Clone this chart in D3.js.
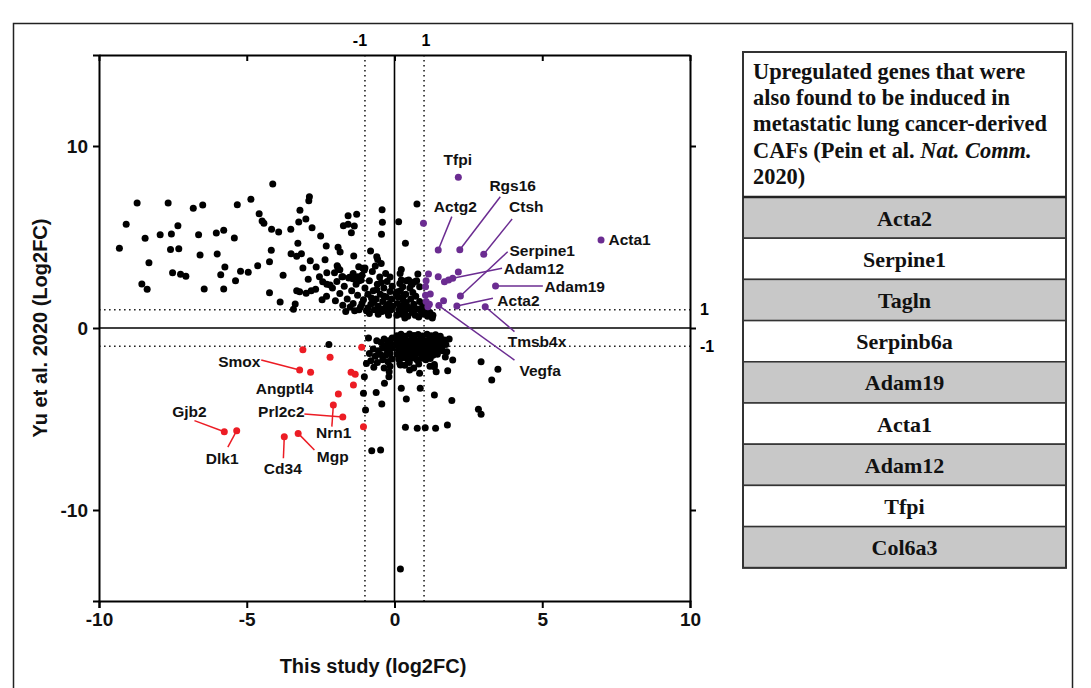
<!DOCTYPE html>
<html><head><meta charset="utf-8">
<script src="https://cdn.jsdelivr.net/npm/d3@7/dist/d3.min.js"></script>
<style>
html,body{margin:0;padding:0;background:#fff;}
svg text{font-family:"Liberation Sans",Arial,sans-serif;}
</style></head>
<body>
<svg id="chart" width="1091" height="688"></svg>
<script>
// ---------- DATA ----------
const xTicks = [-10, -5, 0, 5, 10];
const yTicks = [-10, 0, 10];
const thresholds = [-1, 1];
const xTitle = "This study (log2FC)";
const yTitle = "Yu et al. 2020 (Log2FC)";

// non-highlighted genes [log2FC this study, log2FC Yu et al.]
const blackGenes = [
 [-9.31,4.38],[-9.08,5.70],[-8.71,6.87],[-8.44,4.93],[-8.31,3.59],[-8.55,2.42],[-8.37,2.13],
 [-7.66,6.87],[-7.93,5.13],[-7.55,5.16],[-7.33,5.62],[-7.58,4.32],[-7.30,4.36],[-7.51,3.04],
 [-7.24,2.95],[-7.06,2.84],[-6.81,6.58],[-6.49,6.76],[-6.63,5.13],[-6.58,4.01],[-6.44,2.14],
 [-6.03,5.22],[-5.78,5.37],[-6.00,4.07],[-5.74,3.35],[-5.88,2.93],[-5.78,2.14],[-5.38,2.60],
 [-5.32,6.77],[-5.42,4.95],[-4.86,7.07],[-5.21,3.12],[-4.95,3.06],[-4.63,3.42],[-4.58,6.28],
 [-4.48,5.88],[-4.42,5.75],[-4.16,5.42],[-3.92,5.27],[-4.17,4.27],[-4.23,3.64],[-4.23,1.94],
 [-4.12,7.91],[-3.87,1.43],[-3.77,2.90],[-3.51,5.42],[-3.50,4.08],[-3.36,1.32],[-3.42,1.03],
 [-3.27,4.65],[-3.24,5.82],[-3.20,6.47],[-3.31,3.94],[-3.15,4.08],[-3.10,3.30],[-3.00,5.99],
 [-2.88,7.21],[-2.90,6.99],[-2.79,5.51],[-3.31,2.05],[-3.21,1.99],[-2.99,1.91],[-2.82,2.05],
 [-2.67,2.13],[-2.92,2.68],[-2.85,3.70],[-2.65,3.35],[-2.50,5.05],[-2.31,4.51],[-2.35,3.75],
 [-2.29,3.04],[-2.54,2.82],[-2.43,2.54],[-2.29,2.40],[-2.18,2.36],[-1.94,3.42],[-1.91,4.43],
 [-1.84,4.18],[-1.78,2.82],[-1.73,5.62],[-1.57,6.17],[-1.28,6.25],[-1.57,5.70],[-1.36,5.60],
 [-1.46,5.24],[-1.38,3.96],[-0.42,6.50],[-0.41,5.81],[-0.44,5.15],[-0.81,4.23],[-0.60,3.92],
 [-0.45,3.55],[-1.21,3.37],[-1.07,3.28],[-0.57,3.77],[-1.02,3.19],[-1.92,3.34],[-2.03,3.04],
 [-1.75,2.82],[-1.24,2.82],[-1.13,2.64],[-1.52,2.79],[-1.41,2.71],
 // dense cluster, upper left of zero
 [-2.10,2.20],[-1.95,2.55],[-1.85,1.90],[-1.70,2.30],[-1.60,1.60],[-1.55,2.75],[-1.45,2.05],
 [-1.40,1.35],[-1.30,2.40],[-1.25,1.80],[-1.15,1.15],[-1.10,2.90],[-1.05,1.55],[-1.00,2.20],
 [-0.95,0.95],[-0.90,1.85],[-0.85,2.60],[-0.80,1.30],[-0.75,3.10],[-0.72,2.05],[-0.68,1.00],
 [-0.62,1.60],[-0.58,2.40],[-0.55,1.20],[-0.50,2.80],[-0.48,1.85],[-0.42,0.90],[-0.40,1.45],
 [-0.36,2.20],[-0.32,1.10],[-0.28,1.70],[-0.25,2.55],[-0.22,0.85],[-0.18,1.35],[-0.15,2.00],
 [-0.12,1.00],[-0.10,1.60],[-0.08,2.30],[-0.06,1.20],[-0.90,1.10],[-1.20,1.00],[-1.35,0.95],
 [-1.75,1.25],[-2.00,1.50],[-2.30,1.75],[-2.45,1.55],[-1.65,0.90],[-0.65,3.40],[-1.00,3.30],
 [-0.30,3.00],[-0.55,0.75],[-0.85,0.80],[-0.20,0.70],[-1.50,1.15],[-0.70,1.40],[-1.20,2.60],
 [-0.45,2.50],[-1.40,3.00],[-1.85,3.20],[-0.15,2.80],[-0.60,2.10],[-0.35,1.75],[-0.78,1.65],
 [-1.10,1.35],[-0.25,1.25],[-0.50,1.05],
 // dense cluster, upper right of zero
 [0.08,0.70],[0.15,1.00],[0.10,1.35],[0.12,1.70],[0.20,2.05],[0.25,0.75],[0.30,1.20],[0.28,1.55],
 [0.35,0.90],[0.40,1.40],[0.38,1.85],[0.45,0.65],[0.50,1.05],[0.55,1.60],[0.52,2.20],[0.60,0.85],
 [0.65,1.30],[0.70,0.70],[0.72,1.75],[0.78,1.05],[0.82,0.60],[0.85,1.45],[0.90,0.90],[0.95,1.20],
 [1.00,0.75],[1.05,1.00],[1.12,0.65],[1.20,0.85],[1.30,0.70],[0.18,2.45],[0.40,2.60],[0.60,2.40],
 [0.75,2.60],[0.23,3.22],[0.19,3.00],[0.79,2.97],[0.48,2.64],[0.56,2.46],[0.68,2.54],[0.85,2.27],
 [0.23,2.64],[0.28,2.27],[0.11,1.99],[0.76,6.81],[0.14,5.84],[0.37,4.65],[1.28,0.55],[0.05,1.90],
 [0.35,0.55],[0.62,1.95],[0.20,1.20],[0.45,1.15],[0.68,1.05],[0.30,1.75],
 // dense cluster, lower right of zero
 [0.08,-0.42],[0.22,-0.35],[0.37,-0.45],[0.51,-0.33],[0.66,-0.41],[0.80,-0.36],[0.95,-0.44],
 [1.10,-0.34],[1.24,-0.42],[1.39,-0.37],[1.55,-0.45],[0.12,-0.68],[0.27,-0.62],[0.43,-0.71],
 [0.58,-0.60],[0.72,-0.69],[0.88,-0.63],[1.03,-0.72],[1.18,-0.61],[1.33,-0.70],[1.48,-0.64],
 [1.63,-0.74],[0.09,-0.93],[0.24,-0.88],[0.39,-0.97],[0.54,-0.86],[0.69,-0.95],[0.84,-0.89],
 [0.99,-0.98],[1.14,-0.87],[1.29,-0.96],[1.44,-0.90],[1.60,-1.00],[1.74,-0.90],[0.13,-1.20],
 [0.28,-1.13],[0.42,-1.22],[0.57,-1.12],[0.73,-1.21],[0.87,-1.14],[1.02,-1.23],[1.17,-1.12],
 [1.32,-1.20],[1.47,-1.15],[1.62,-1.25],[0.10,-1.45],[0.25,-1.38],[0.40,-1.48],[0.55,-1.40],
 [0.70,-1.47],[0.85,-1.39],[1.00,-1.49],[1.15,-1.41],[1.30,-1.50],[1.45,-1.44],[0.14,-1.70],
 [0.29,-1.63],[0.45,-1.72],[0.60,-1.65],[0.76,-1.74],[0.91,-1.66],[1.06,-1.75],[1.21,-1.68],
 [0.18,-1.95],[0.35,-2.05],[0.50,-1.90],[0.82,-1.98],[1.20,-2.10],[1.35,-2.00],[0.65,-2.20],
 [1.72,-1.60],[1.85,-0.60],[1.80,-2.35],[1.69,-0.66],[1.77,-1.30],[1.97,-1.76],[1.41,-2.40],
 [0.85,-2.49],[0.51,-2.31],[0.20,-2.03],[1.35,-2.13],
 // dense cluster, lower left of zero
 [-0.08,-0.55],[-0.20,-0.70],[-0.35,-0.60],[-0.12,-0.85],[-0.28,-0.95],[-0.45,-0.80],[-0.60,-0.70],
 [-0.10,-1.10],[-0.25,-1.20],[-0.40,-1.10],[-0.55,-1.25],[-0.72,-1.15],[-0.15,-1.40],[-0.30,-1.50],
 [-0.48,-1.45],[-0.65,-1.55],[-0.85,-1.40],[-0.10,-1.70],[-0.22,-1.85],[-0.40,-1.75],[-0.58,-1.90],
 [-0.80,-1.80],[-0.95,-1.95],[-0.15,-2.10],[-0.35,-2.20],[-0.70,-2.15],[-0.88,-0.55],[-0.18,-2.40],
 // sparse lower genes
 [-1.02,-2.68],[-0.34,-3.04],[-0.19,-2.68],[-0.62,-3.55],[-0.43,-4.18],[-0.98,-4.51],[-1.05,-3.59],
 [-0.77,-6.74],[-0.47,-6.70],[-2.22,-0.90],
 [0.23,-3.31],[0.40,-3.90],[0.87,-3.31],[1.35,-3.68],[1.94,-3.99],[2.93,-1.85],[3.50,-2.27],
 [3.29,-2.86],[2.84,-4.47],[2.93,-4.74],[1.04,-5.48],[1.39,-5.51],[1.79,-5.33],[0.37,-5.46],
 [0.77,-5.51],[0.20,-13.24]
];

// upregulated genes also induced in lung cancer CAFs region (purple)
const purpleGenes = [
 ["Tfpi",2.16,8.28],["",0.98,5.75],["Actg2",1.48,4.29],["Rgs16",2.21,4.30],["Ctsh",3.02,4.05],
 ["Acta1",6.99,4.84],["",2.16,3.08],["",1.48,2.82],["",1.69,2.54],["",1.83,2.64],
 ["Adam12",1.97,2.73],["",1.15,2.97],["",1.07,2.60],["Adam19",3.42,2.31],["",1.05,2.27],
 ["Serpine1",2.23,1.76],["",1.21,1.87],["",1.66,1.50],["",1.07,1.45],["",1.18,1.30],
 ["",1.13,1.17],["",1.05,1.80],["Acta2",2.11,1.21],["Tmsb4x",3.07,1.17],["Vegfa",1.50,1.23]
];

// downregulated highlighted genes (red)
const redGenes = [
 ["",-3.10,-1.19],["",-2.18,-1.61],["",-1.11,-1.06],["Smox",-3.21,-2.31],["Angptl4",-2.84,-2.43],
 ["",-1.47,-2.43],["",-1.33,-2.54],["",-1.39,-3.13],["",-1.90,-3.63],["Nrn1",-2.07,-4.23],
 ["Prl2c2",-1.75,-4.89],["",-1.05,-5.42],["Gjb2",-5.76,-5.70],["Dlk1",-5.34,-5.64],
 ["Cd34",-3.73,-5.97],["Mgp",-3.26,-5.79]
];

// table
const tableTitle = ["Upregulated genes that were","also found to be induced in","metastatic lung cancer-derived","CAFs (Pein et al. |Nat. Comm.|","2020)"];
const tableGenes = ["Acta2","Serpine1","Tagln","Serpinb6a","Adam19","Acta1","Adam12","Tfpi","Col6a3"];

// ---------- LAYOUT / ANNOTATIONS ----------
// label anchor [x, y] and leader-line start [x, y] in data units
const annotations = {
 "Tfpi":    {t:[2.14,9.27], a:"middle"},
 "Actg2":   {t:[2.06,6.66], a:"middle", l:[1.94,6.12]},
 "Rgs16":   {t:[4.00,7.86], a:"middle", l:[3.58,7.21]},
 "Ctsh":    {t:[4.46,6.66], a:"middle", l:[3.98,5.99]},
 "Acta1":   {t:[7.24,4.84], a:"start"},
 "Serpine1":{t:[3.89,4.29], a:"start", l:[3.83,4.19]},
 "Adam12":  {t:[3.70,3.28], a:"start", l:[3.64,3.28]},
 "Adam19":  {t:[5.08,2.31], a:"start", l:[5.02,2.31]},
 "Acta2":   {t:[3.48,1.54], a:"start", l:[3.33,1.63]},
 "Tmsb4x":  {t:[3.83,-0.75], a:"start", l:[4.06,-0.20]},
 "Vegfa":   {t:[4.23,-2.31], a:"start", l:[4.06,-1.76]},
 "Smox":    {t:[-5.25,-1.85], a:"middle", l:[-4.51,-1.76]},
 "Angptl4": {t:[-3.72,-3.31], a:"middle"},
 "Prl2c2":  {t:[-3.83,-4.60], a:"middle", l:[-3.05,-4.73]},
 "Nrn1":    {t:[-2.06,-5.75], a:"middle", l:[-2.12,-5.42]},
 "Gjb2":    {t:[-6.94,-4.60], a:"middle", l:[-6.77,-5.09]},
 "Dlk1":    {t:[-5.83,-7.16], a:"middle", l:[-5.64,-6.55]},
 "Cd34":    {t:[-3.78,-7.71], a:"middle", l:[-3.76,-7.16]},
 "Mgp":     {t:[-2.09,-7.07], a:"middle", l:[-2.71,-6.70]}
};

const PURPLE = "#6b2c91", RED = "#ec1c24";

const svg = d3.select("#chart");
// outer frame
svg.append("rect").attr("x",13.5).attr("y",23.5).attr("width",1059).attr("height",700)
  .attr("fill","none").attr("stroke","#222").attr("stroke-width",1.5);

const x = d3.scaleLinear().domain([-10,10]).range([99,690]);
const y = d3.scaleLinear().domain([-15,15]).range([601,55]);

const g = svg.append("g");

// zero lines
g.append("line").attr("x1",x(0)).attr("x2",x(0)).attr("y1",y(15)).attr("y2",y(-15)).attr("stroke","#000").attr("stroke-width",1.6);
g.append("line").attr("x1",x(-10)).attr("x2",x(10)).attr("y1",y(0)).attr("y2",y(0)).attr("stroke","#000").attr("stroke-width",1.6);
// threshold dotted lines
thresholds.forEach(t=>{
  g.append("line").attr("x1",x(t)).attr("x2",x(t)).attr("y1",y(15)).attr("y2",y(-15))
    .attr("stroke","#222").attr("stroke-width",1.6).attr("stroke-dasharray","1.6,3.4");
  g.append("line").attr("x1",x(-10)).attr("x2",x(10)).attr("y1",y(t)).attr("y2",y(t))
    .attr("stroke","#222").attr("stroke-width",1.6).attr("stroke-dasharray","1.6,3.4");
});

// axes
const fmt = d=>String(d);
const axB = g.append("g").attr("transform",`translate(0,${y(-15)})`)
  .call(d3.axisBottom(x).tickValues(xTicks).tickSize(7).tickPadding(5).tickFormat(fmt));
const axL = g.append("g").attr("transform",`translate(${x(-10)},0)`)
  .call(d3.axisLeft(y).tickValues(yTicks).tickSize(6).tickPadding(5).tickFormat(fmt));
const axT = g.append("g").attr("transform",`translate(0,${y(15)})`)
  .call(d3.axisTop(x).tickValues(xTicks).tickSizeInner(-6).tickSizeOuter(0).tickFormat(""));
const axR = g.append("g").attr("transform",`translate(${x(10)},0)`)
  .call(d3.axisRight(y).tickValues(yTicks).tickSize(6).tickSizeOuter(0).tickFormat(""));
[axB,axL,axT,axR].forEach(a=>{
  a.select(".domain").attr("stroke","#000").attr("stroke-width",2);
  a.selectAll(".tick line").attr("stroke","#000").attr("stroke-width",2);
  a.selectAll(".tick text").attr("fill","#111").style("font-size","19px").style("font-weight","bold")
   .style("font-family","'Liberation Sans',Arial,sans-serif");
});

// threshold labels
thresholds.forEach(t=>{
  g.append("text").attr("x",x(t)+(t<0?-5:2)).attr("y",46).attr("text-anchor","middle")
    .style("font-size","16px").style("font-weight","bold").text(String(t));
  g.append("text").attr("x",x(10)+10).attr("y",y(t)).attr("dy","0.35em").attr("text-anchor","start")
    .style("font-size","16px").style("font-weight","bold").text(String(t));
});

// axis titles
g.append("text").attr("x",373).attr("y",673).attr("text-anchor","middle")
  .style("font-size","20px").style("font-weight","bold").attr("fill","#111").text(xTitle);
g.append("text").attr("transform",`translate(47,${y(0)}) rotate(-90)`).attr("text-anchor","middle")
  .style("font-size","20px").style("font-weight","bold").attr("fill","#111").text(yTitle);

// leader lines
function leaders(list,color){
  list.filter(d=>d[0] && annotations[d[0]] && annotations[d[0]].l).forEach(d=>{
    const a = annotations[d[0]];
    g.append("line").attr("x1",x(a.l[0])).attr("y1",y(a.l[1])).attr("x2",x(d[1])).attr("y2",y(d[2]))
      .attr("stroke",color).attr("stroke-width",1.5);
  });
}
leaders(purpleGenes,PURPLE);
leaders(redGenes,RED);

// points
const R = 3.5;
g.append("g").selectAll("circle").data(blackGenes).join("circle")
  .attr("cx",d=>x(d[0])).attr("cy",d=>y(d[1])).attr("r",R).attr("fill","#000");
g.append("g").selectAll("circle").data(purpleGenes).join("circle")
  .attr("cx",d=>x(d[1])).attr("cy",d=>y(d[2])).attr("r",R).attr("fill",PURPLE);
g.append("g").selectAll("circle").data(redGenes).join("circle")
  .attr("cx",d=>x(d[1])).attr("cy",d=>y(d[2])).attr("r",R).attr("fill",RED);

// gene labels
[...purpleGenes,...redGenes].filter(d=>d[0] && annotations[d[0]]).forEach(d=>{
  const a = annotations[d[0]];
  g.append("text").attr("x",x(a.t[0])).attr("y",y(a.t[1])).attr("dy","0.36em")
    .attr("text-anchor",a.a).style("font-size","15.5px").style("font-weight","bold").attr("fill","#111")
    .text(d[0]);
});

// ---------- TABLE ----------
const tb = svg.append("g");
const tx0 = 743, tx1 = 1066, ty0 = 52, hdrH = 145, rowH = 41.2;
const serif = "'Liberation Serif','Times New Roman',serif";
tb.append("rect").attr("x",tx0).attr("y",ty0).attr("width",tx1-tx0).attr("height",hdrH).attr("fill","#fff");
tableTitle.forEach((line,i)=>{
  const t = tb.append("text").attr("x",tx0+10).attr("y",ty0+27+i*26.2)
    .style("font-family",serif).style("font-size","22.4px").style("font-weight","bold").attr("fill","#111");
  line.split("|").forEach((part,j)=>{
    t.append("tspan").style("font-style",j%2===1?"italic":"normal").text(part);
  });
});
const rowY = d3.scaleBand().domain(tableGenes).range([ty0+hdrH, ty0+hdrH+rowH*tableGenes.length]);
tb.selectAll("rect.row").data(tableGenes).join("rect").attr("class","row")
  .attr("x",tx0).attr("y",d=>rowY(d)).attr("width",tx1-tx0).attr("height",rowY.bandwidth())
  .attr("fill",(d,i)=>i%2===0?"#c8c8c8":"#fff").attr("stroke","#333").attr("stroke-width",1.5);
tb.selectAll("text.gene").data(tableGenes).join("text").attr("class","gene")
  .attr("x",(tx0+tx1)/2).attr("y",d=>rowY(d)+rowY.bandwidth()/2).attr("dy","0.36em")
  .attr("text-anchor","middle").style("font-family",serif).style("font-size","22px").style("font-weight","bold")
  .attr("fill","#111").text(d=>d);
tb.append("rect").attr("x",tx0).attr("y",ty0).attr("width",tx1-tx0).attr("height",hdrH+rowH*tableGenes.length)
  .attr("fill","none").attr("stroke","#333").attr("stroke-width",2);
tb.append("line").attr("x1",tx0).attr("x2",tx1).attr("y1",ty0+hdrH).attr("y2",ty0+hdrH)
  .attr("stroke","#222").attr("stroke-width",2.5);
</script>
</body></html>
